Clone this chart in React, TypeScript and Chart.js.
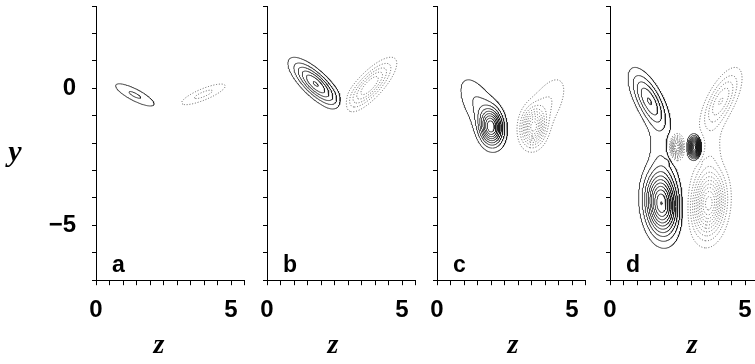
import React, { useEffect, useRef } from "react";
import { Chart, registerables } from "chart.js";

Chart.register(...registerables);

// ---------------- data ----------------
const panelLetters = ["a", "b", "c", "d"];
const zMin = 0;
const zMax = 5.5;
const yMin = -7;
const yMax = 3;
const zTickStep = 0.5;
const yTickStep = 1;
const zTickValues = [0, 5];
const zTickLabels = ["0", "5"];
const yTickValues = [0, -5];
const yTickLabels = ["0", "\u22125"];
const zTitleAt = [2.33, 2.44, 2.81, 3.04];
const contourLevels = [1, 2, 3, 4, 5, 6, 7, 8, 9, 10, 11, 12, 13, 14];

// vortex blobs: [z, y, amplitude, sigmaMajor, sigmaMinor, angleDeg]
type Blob = [number, number, number, number, number, number];
const blobsA: Blob[] = [
  [1.44, -0.24, 2.15, 0.64, 0.17, -27],
  [3.98, -0.22, -2.3, 0.67, 0.16, 22],
];
const blobsB: Blob[] = [
  [1.8, 0.16, 6.1, 0.7, 0.25, -43],
  [3.8, 0.1, -6.0, 0.72, 0.25, 46],
];
const blobsC: Blob[] = [
  [2.0, -1.42, 8.5, 0.42, 0.27, -85],
  [1.6, -0.7, 2.2, 0.9, 0.4, -60],
  [3.57, -1.42, -8.2, 0.42, 0.27, 85],
  [3.98, -0.7, -2.2, 0.9, 0.4, 60],
];
const blobsD: Blob[] = [
  [1.45, -0.45, 5, 0.75, 0.29, -62],
  [4.11, -0.45, -5, 0.75, 0.29, 62],
  [1.9, -4.2, 11, 0.75, 0.38, -85],
  [3.66, -4.2, -10.5, 0.75, 0.38, 85],
  [2.47, -2.15, -12, 0.24, 0.14, 90],
  [3.13, -2.15, 12, 0.24, 0.14, 90],
  [1.85, -2.3, 1.3, 0.8, 0.3, -75],
  [3.73, -2.3, -1.3, 0.8, 0.3, 75],
  [2.11, -2.69, 0.6, 0.07, 0.07, 0],
  [3.5, -2.69, -0.6, 0.07, 0.07, 0],
];
const panelBlobs = [blobsA, blobsB, blobsC, blobsD];

// ---------------- layout ----------------
const PANEL_LEFT = [96, 267, 437, 610];
const AXIS_W = [96, 24, 24, 24];
const PLOT_W = 148.5;
const PAD_R = 16.5;
const PLOT_TOP = 6.1;
const XAXIS_H = 83.8;
const CH = 364;
const GRID = 0.02;

const CASES: number[][] = [
  [], [3, 0], [0, 1], [3, 1], [1, 2], [], [0, 2], [3, 2],
  [2, 3], [0, 2], [], [1, 2], [1, 3], [0, 1], [0, 3], [],
];

function buildField(blobs: Blob[]) {
  const nx = Math.round((zMax - zMin) / GRID) + 1;
  const ny = Math.round((yMax - yMin) / GRID) + 1;
  const g = new Float64Array(nx * ny);
  const pre = blobs.map(([z, y, a, sa, sb, ang]) => {
    const t = (ang * Math.PI) / 180;
    return [z, y, a, Math.cos(t), Math.sin(t), 1 / (2 * sa * sa), 1 / (2 * sb * sb)];
  });
  for (let j = 0; j < ny; j++) {
    const yy = yMin + j * GRID;
    for (let i = 0; i < nx; i++) {
      const zz = zMin + i * GRID;
      let v = 0;
      for (const p of pre) {
        const dz = zz - p[0];
        const dy = yy - p[1];
        const u = dz * p[3] + dy * p[4];
        const w = -dz * p[4] + dy * p[3];
        v += p[2] * Math.exp(-(u * u * p[5] + w * w * p[6]));
      }
      g[j * nx + i] = v;
    }
  }
  return { g, nx, ny };
}

function traceLevel(g: Float64Array, nx: number, ny: number, L: number): number[][] {
  const segs: number[] = [];
  const adj = new Map<number, number[]>();
  const add = (ka: number, kb: number) => {
    const s = segs.length >> 1;
    segs.push(ka, kb);
    let l = adj.get(ka);
    if (!l) { l = []; adj.set(ka, l); }
    l.push(s);
    l = adj.get(kb);
    if (!l) { l = []; adj.set(kb, l); }
    l.push(s);
  };
  for (let j = 0; j < ny - 1; j++) {
    for (let i = 0; i < nx - 1; i++) {
      const n = j * nx + i;
      const a = g[n], b = g[n + 1], c = g[n + nx + 1], d = g[n + nx];
      const idx = (a > L ? 1 : 0) | (b > L ? 2 : 0) | (c > L ? 4 : 0) | (d > L ? 8 : 0);
      if (idx === 0 || idx === 15) continue;
      const e = [n * 2, (n + 1) * 2 + 1, (n + nx) * 2, n * 2 + 1];
      if (idx === 5 || idx === 10) {
        const center = (a + b + c + d) / 4 > L;
        if ((idx === 5) === center) { add(e[0], e[1]); add(e[2], e[3]); }
        else { add(e[3], e[0]); add(e[1], e[2]); }
      } else {
        const p = CASES[idx];
        add(e[p[0]], e[p[1]]);
      }
    }
  }
  const pt = (k: number, out: number[]) => {
    const n = k >> 1;
    const i = n % nx;
    const j = (n - i) / nx;
    const v1 = g[n];
    if (k & 1) {
      const v2 = g[n + nx];
      const t = (L - v1) / (v2 - v1);
      out.push(zMin + i * GRID, yMin + (j + t) * GRID);
    } else {
      const v2 = g[n + 1];
      const t = (L - v1) / (v2 - v1);
      out.push(zMin + (i + t) * GRID, yMin + j * GRID);
    }
  };
  const nSeg = segs.length >> 1;
  const used = new Uint8Array(nSeg);
  const walk = (start: number) => {
    const keys: number[] = [];
    let cur = start;
    for (;;) {
      const l = adj.get(cur)!;
      let nxt = -1;
      for (const s of l) if (!used[s]) { nxt = s; break; }
      if (nxt < 0) break;
      used[nxt] = 1;
      cur = segs[2 * nxt] === cur ? segs[2 * nxt + 1] : segs[2 * nxt];
      keys.push(cur);
    }
    return keys;
  };
  const lines: number[][] = [];
  for (let s = 0; s < nSeg; s++) {
    if (used[s]) continue;
    used[s] = 1;
    const ka = segs[2 * s], kb = segs[2 * s + 1];
    const fwd = walk(kb);
    const back = walk(ka);
    const keys = back.reverse().concat([ka, kb], fwd);
    const flat: number[] = [];
    for (const k of keys) pt(k, flat);
    lines.push(flat);
  }
  return lines;
}

function contourData(blobs: Blob[]) {
  const { g, nx, ny } = buildField(blobs);
  const neg = new Float64Array(g.length);
  let maxP = 0, maxN = 0;
  for (let k = 0; k < g.length; k++) {
    neg[k] = -g[k];
    if (g[k] > maxP) maxP = g[k];
    if (-g[k] > maxN) maxN = -g[k];
  }
  const toPts = (field: Float64Array, maxV: number) => {
    const pts: { x: number; y: number }[] = [];
    for (const L of contourLevels) {
      if (L >= maxV) continue;
      for (const line of traceLevel(field, nx, ny, L)) {
        for (let k = 0; k < line.length; k += 2) pts.push({ x: line[k], y: line[k + 1] });
        pts.push({ x: NaN, y: NaN });
      }
    }
    return pts;
  };
  return { pos: toPts(g, maxP), neg: toPts(neg, maxN) };
}

function makeConfig(index: number): any {
  const { pos, neg } = contourData(panelBlobs[index]);
  const axisW = AXIS_W[index];
  const tickFont = { family: '"Liberation Sans", Arial, sans-serif', size: 24, weight: "bold" };
  const textPlugin = {
    id: "panelText" + index,
    afterDraw(chart: any) {
      const ctx = chart.ctx;
      const xs = chart.scales.x;
      ctx.save();
      ctx.fillStyle = "#000";
      ctx.font = 'bold 23px "Liberation Sans", Arial, sans-serif';
      ctx.textAlign = "left";
      ctx.textBaseline = "alphabetic";
      ctx.fillText(panelLetters[index], chart.chartArea.left + 16, 272);
      ctx.font = 'italic bold 28px "Liberation Serif", "Times New Roman", serif';
      ctx.textAlign = "center";
      ctx.fillText("z", xs.getPixelForValue(zTitleAt[index]), 353);
      if (index === 0) {
        ctx.font = 'italic bold 30px "Liberation Serif", "Times New Roman", serif';
        ctx.fillText("y", 15, 161);
      }
      ctx.restore();
    },
  };
  return {
    type: "scatter",
    data: {
      datasets: [
        {
          data: pos, showLine: true, borderColor: "#1a1a1a", borderWidth: 0.8,
          pointRadius: 0, pointHoverRadius: 0, spanGaps: false, tension: 0, fill: false,
        },
        {
          data: neg, showLine: true, borderColor: "#3a3a3a", borderWidth: 0.8, borderDash: [1, 1.8],
          pointRadius: 0, pointHoverRadius: 0, spanGaps: false, tension: 0, fill: false,
        },
      ],
    },
    options: {
      animation: false,
      responsive: false,
      events: [],
      layout: { padding: { top: PLOT_TOP, left: 0, right: PAD_R, bottom: 0 } },
      plugins: { legend: { display: false }, tooltip: { enabled: false } },
      scales: {
        x: {
          type: "linear", min: zMin, max: zMax,
          grid: { drawOnChartArea: false, drawTicks: true, tickLength: 5, color: "#000", lineWidth: 1 },
          border: { display: true, color: "#000", width: 1 },
          ticks: {
            stepSize: zTickStep, autoSkip: false, maxRotation: 0, padding: 11, color: "#000", font: tickFont,
            callback: (v: number) => {
              const k = zTickValues.findIndex((t) => Math.abs(t - v) < 1e-6);
              return k >= 0 ? zTickLabels[k] : "";
            },
          },
          afterFit: (s: any) => { s.height = XAXIS_H; s.paddingLeft = 0; s.paddingRight = 0; },
        },
        y: {
          type: "linear", min: yMin, max: yMax,
          grid: { drawOnChartArea: false, drawTicks: true, tickLength: 4, color: "#000", lineWidth: 1 },
          border: { display: true, color: "#000", width: 1 },
          ticks: {
            display: index === 0, stepSize: yTickStep, autoSkip: false, padding: 16, color: "#000", font: tickFont,
            callback: (v: number) => {
              const k = yTickValues.findIndex((t) => Math.abs(t - v) < 1e-6);
              return k >= 0 ? yTickLabels[k] : "";
            },
          },
          afterFit: (s: any) => { s.width = axisW; s.paddingTop = 0; s.paddingBottom = 0; },
        },
      },
    },
    plugins: [textPlugin],
  };
}

function Panel({ index }: { index: number }) {
  const ref = useRef<HTMLCanvasElement>(null);
  const w = Math.round(AXIS_W[index] + PLOT_W + PAD_R);
  useEffect(() => {
    const chart = new Chart(ref.current as HTMLCanvasElement, makeConfig(index));
    return () => chart.destroy();
  }, [index]);
  return (
    <canvas
      ref={ref}
      width={w}
      height={CH}
      style={{ position: "absolute", left: PANEL_LEFT[index] - AXIS_W[index], top: 0, width: w, height: CH }}
    />
  );
}

export default function App() {
  return (
    <div
      style={{
        position: "fixed", left: 0, top: 0, width: 755, height: 364,
        overflow: "hidden", background: "#fff",
      }}
    >
      {[0, 1, 2, 3].map((i) => (
        <Panel key={i} index={i} />
      ))}
    </div>
  );
}
